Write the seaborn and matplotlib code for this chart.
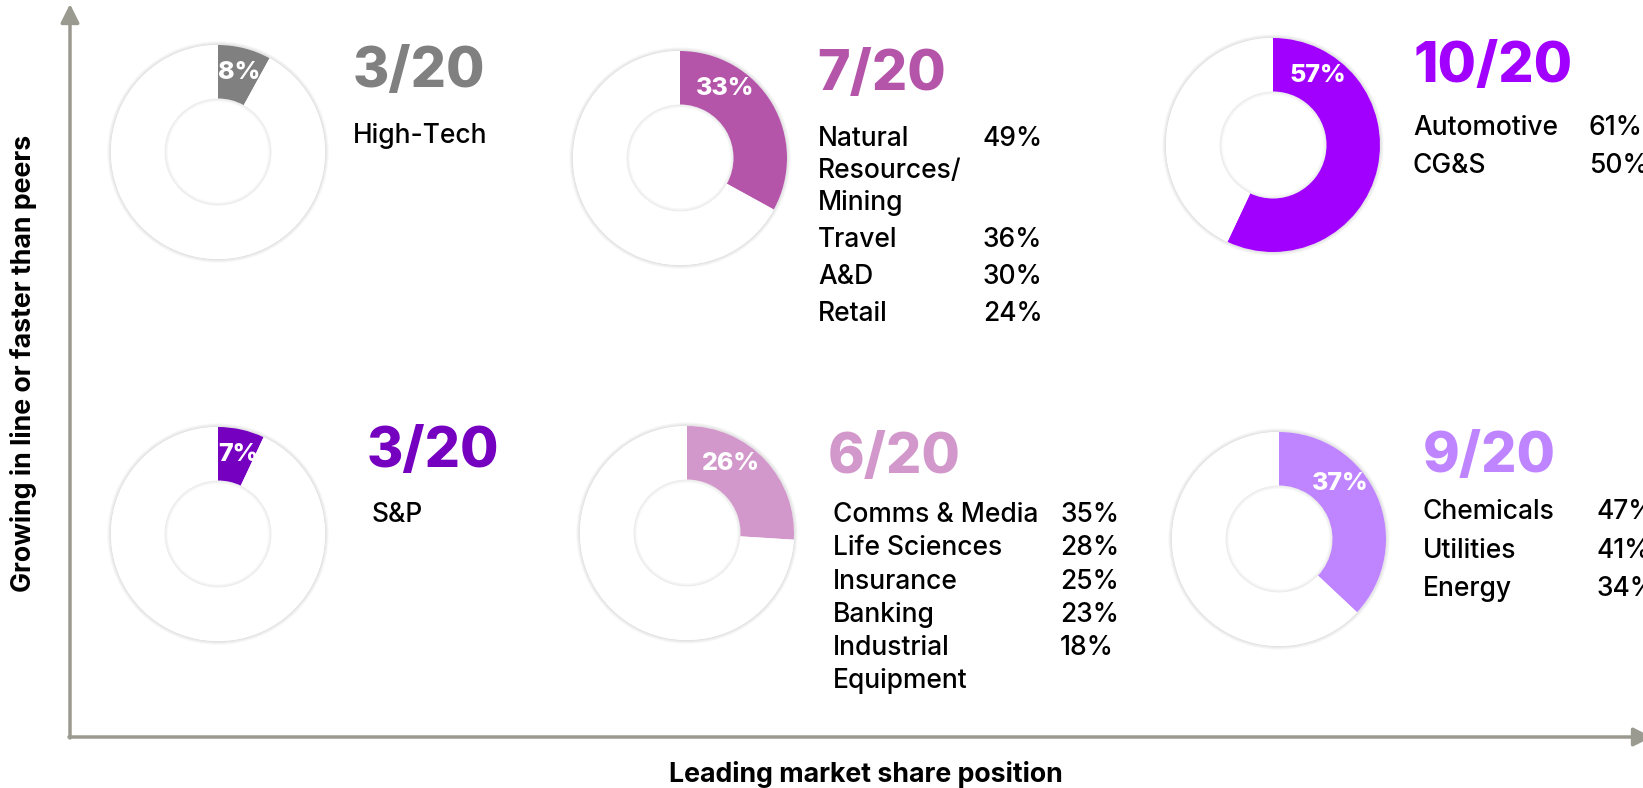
import matplotlib as mpl
import matplotlib.pyplot as plt
import numpy as np
import seaborn as sns
from matplotlib import font_manager
from matplotlib.patches import Wedge

# data
fractions = ["3/20", "7/20", "10/20", "3/20", "6/20", "9/20"]
shares = [8, 33, 57, 7, 26, 37]
colors = ["#808080", "#B455AA", "#A100FF", "#7500C0", "#D298CB", "#BF84FF"]
industries = [
    ["High-Tech"],
    ["Natural\nResources/\nMining", "Travel", "A&D", "Retail"],
    ["Automotive", "CG&S"],
    ["S&P"],
    ["Comms & Media", "Life Sciences", "Insurance", "Banking", "Industrial\nEquipment"],
    ["Chemicals", "Utilities", "Energy"],
]
industry_pct = [
    [],
    [49, 36, 30, 24],
    [61, 50],
    [],
    [35, 28, 25, 23, 18],
    [47, 41, 34],
]
x_label = "Leading market share position"
y_label = "Growing in line or faster than peers"

# layout (pixels, y from top)
W, H = 1643, 788
R = 107
centers = [(218, 152), (680, 158), (1273, 145), (218, 534), (687, 533), (1279, 539)]
label_angle = [75, 57, 57, 76, 58, 42]
title_pos = [(353, 87), (817, 90), (1413, 82), (367, 467), (828, 473), (1423, 472)]
list_x = [353, 818, 1413, 372, 833, 1423]
pct_x = [None, 983, 1589, None, 1060, 1596]
first_base = [143, 146, 135, 522, 522, 519]
row_step = [38, 37, 38, 38, 33.3, 38.5]
wrap_step = [32, 32, 32, 32, 33.3, 32]
axis_col = "#9A9A90"

sns.set_theme(style="white")


def pick(names):
    have = {f.name for f in font_manager.fontManager.ttflist}
    return [n for n in names if n in have] + ["DejaVu Sans"]


body_font = pick(["Inter", "Roboto", "Lato"])
plt.rcParams["font.family"] = body_font

fig = plt.figure(figsize=(W / 100, H / 100), dpi=100)
bg = fig.add_axes([0, 0, 1, 1])
bg.set_xlim(0, W)
bg.set_ylim(H, 0)
bg.axis("off")

# axes arrows
arrow = dict(arrowstyle="-|>", color=axis_col, lw=2.5, mutation_scale=28, shrinkA=0, shrinkB=0)
bg.annotate("", xy=(70, 4), xytext=(70, 738), arrowprops=arrow, annotation_clip=False)
bg.annotate("", xy=(1652, 737), xytext=(69, 737), arrowprops=arrow, annotation_clip=False)
ylab = bg.text(24, 363, y_label, rotation=90, ha="center", va="center", fontsize=18,
               fontweight="bold", color="black")
xlab = bg.text(866, 775, x_label, ha="center", va="center", fontsize=18,
               fontweight="bold", color="black")

# size the axis titles to the reference width
fig.canvas.draw()
w = xlab.get_window_extent().width
fs = 18 * 395 / w
xlab.set_fontsize(fs)
ylab.set_fontsize(fs)

s = 2.2 * R
for i, (cx, cy) in enumerate(centers):
    ax = fig.add_axes([(cx - s / 2) / W, 1 - (cy + s / 2) / H, s / W, s / H])
    ax.patch.set_alpha(0)
    # soft shadow around outer ring and inside the hole
    for k in range(1, 7):
        ax.add_patch(Wedge((0, 0), 1 + k * 0.006, 0, 360, width=k * 0.006,
                           color="#000000", alpha=0.018, lw=0, zorder=0))
    for k in range(1, 5):
        ax.add_patch(Wedge((0, 0), 0.5, 0, 360, width=k * 0.008,
                           color="#000000", alpha=0.018, lw=0, zorder=3))
    ax.pie([shares[i], 100 - shares[i]], colors=[colors[i], "white"], startangle=90,
           counterclock=False, radius=1, wedgeprops=dict(width=0.5, edgecolor="none"))
    ax.set_xlim(-1.1, 1.1)
    ax.set_ylim(-1.1, 1.1)
    ax.set_aspect("equal")
    ax.axis("off")
    a = np.deg2rad(label_angle[i])
    ax.text(0.77 * np.cos(a), 0.77 * np.sin(a), f"{shares[i]}%", ha="center", va="center",
            fontsize=18, fontweight="heavy", color="white", zorder=5)

    tx, ty = title_pos[i]
    bg.text(tx, ty, fractions[i], ha="left", va="baseline", fontsize=40,
            fontweight="heavy", color=colors[i])

    y = first_base[i]
    for j, name in enumerate(industries[i]):
        lines = name.split("\n")
        for k, line in enumerate(lines):
            bg.text(list_x[i], y + k * wrap_step[i], line, ha="left", va="baseline",
                    fontsize=19, fontweight="medium", color="black")
        if j < len(industry_pct[i]):
            bg.text(pct_x[i], y, f"{industry_pct[i][j]}%", ha="left", va="baseline",
                    fontsize=19, fontweight="medium", color="black")
        y += (len(lines) - 1) * wrap_step[i] + row_step[i]

fig.savefig("out.png", dpi=100)
